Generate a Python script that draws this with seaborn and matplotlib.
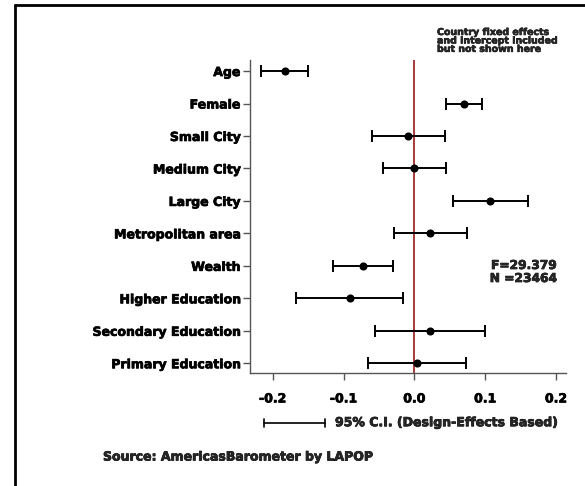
import numpy as np
import pandas as pd
import matplotlib
matplotlib.use("Agg")
import matplotlib.pyplot as plt
import matplotlib.patheffects as pe
from matplotlib.lines import Line2D
import seaborn as sns

# Regression coefficients with 95% confidence intervals
variables = ["Age", "Female", "Small City", "Medium City", "Large City",
             "Metropolitan area", "Wealth", "Higher Education",
             "Secondary Education", "Primary Education"]
coef = [-0.183, 0.0695, -0.009, 0.000, 0.107, 0.0225, -0.073, -0.0915, 0.0215, 0.004]
ci_low = [-0.216, 0.044, -0.060, -0.044, 0.054, -0.029, -0.115, -0.167, -0.056, -0.065]
ci_high = [-0.150, 0.095, 0.043, 0.044, 0.160, 0.074, -0.030, -0.016, 0.100, 0.073]
x_ticks = [-0.2, -0.1, 0.0, 0.1, 0.2]
x_tick_labels = ["-0.2", "-0.1", "0.0", "0.1", "0.2"]
stats_text = "F=29.379\nN =23464"
note_text = "Country fixed effects\nand intercept included\nbut not shown here"
legend_text = "95% C.I. (Design-Effects Based)"
source_text = "Source: AmericasBarometer by LAPOP"

df = pd.DataFrame({"variable": variables, "coef": coef,
                   "low": ci_low, "high": ci_high})

sns.set_theme(style="ticks")
plt.rcParams["font.family"] = ["DejaVu Sans"]
plt.rcParams["font.weight"] = "bold"

# heavy lettering: bold glyphs with a thin outline of the same colour
heavy = [pe.withStroke(linewidth=0.5, foreground="black")]
FS = 9.0

W, H = 585, 486
fig = plt.figure(figsize=(W / 100, H / 100), dpi=100)
fig.patch.set_facecolor("white")
ax = fig.add_axes([250 / W, 1 - 373 / H, (566 - 250) / W, (373 - 60) / H])

ypos = np.arange(len(df))
ax.errorbar(df["coef"], ypos,
            xerr=[df["coef"] - df["low"], df["high"] - df["coef"]],
            fmt="none", ecolor="black", elinewidth=1.4, capsize=4, capthick=1.4,
            zorder=3)
sns.scatterplot(data=df, x="coef", y="variable", color="black", s=34,
                edgecolor="black", linewidth=0, zorder=4, ax=ax, legend=False)
ax.axvline(0, color="#a52a2a", lw=1.3, zorder=2)

ax.set_xlim(-0.232, 0.214)
ax.set_ylim(len(df) - 1 + 0.30, -0.34)
ax.set_xticks(x_ticks)
ax.set_xticklabels(x_tick_labels)
ax.set_yticks(ypos)
ax.set_yticklabels(variables)
ax.set_xlabel("")
ax.set_ylabel("")
ax.tick_params(axis="both", length=5, width=1, color="#555555",
               labelsize=FS, labelcolor="black", pad=2)
ax.tick_params(axis="x", pad=9)
for lbl in ax.get_xticklabels() + ax.get_yticklabels():
    lbl.set_fontweight("bold")
    lbl.set_path_effects(heavy)
for side in ["top", "right"]:
    ax.spines[side].set_visible(False)
for side in ["left", "bottom"]:
    ax.spines[side].set_color("#555555")
    ax.spines[side].set_linewidth(1)
ax.set_facecolor("white")

# Statistics block and note
fig.text(557 / W, 1 - 272 / H, stats_text, ha="right", va="center",
         fontsize=8.8, fontweight="bold", linespacing=1.0, path_effects=heavy)
fig.text(437 / W, 1 - 28 / H, note_text, ha="left", va="top",
         fontsize=6.8, fontweight="bold", linespacing=0.92,
         path_effects=[pe.withStroke(linewidth=0.4, foreground="black")])

# Confidence interval key
ky = 1 - 422.7 / H
x0, x1 = 264 / W, 325 / W
cap = 4 / H
fig.add_artist(Line2D([x0, x1], [ky, ky], color="black", lw=1.2,
                      transform=fig.transFigure))
for xc in (x0, x1):
    fig.add_artist(Line2D([xc, xc], [ky - cap, ky + cap], color="black", lw=1.2,
                          transform=fig.transFigure))
fig.text(335 / W, ky, legend_text, ha="left", va="center",
         fontsize=FS, fontweight="bold", path_effects=heavy)
fig.text(103 / W, 1 - 457 / H, source_text, ha="left", va="center",
         fontsize=FS, fontweight="bold", path_effects=heavy)

# Page frame (left and top edges)
fig.add_artist(Line2D([15 / W, 15 / W], [0, 1 - 5 / H], color="black", lw=2,
                      transform=fig.transFigure))
fig.add_artist(Line2D([15 / W, 1], [1 - 5 / H, 1 - 5 / H], color="black", lw=2,
                      transform=fig.transFigure))

fig.savefig("out.png", dpi=100)
